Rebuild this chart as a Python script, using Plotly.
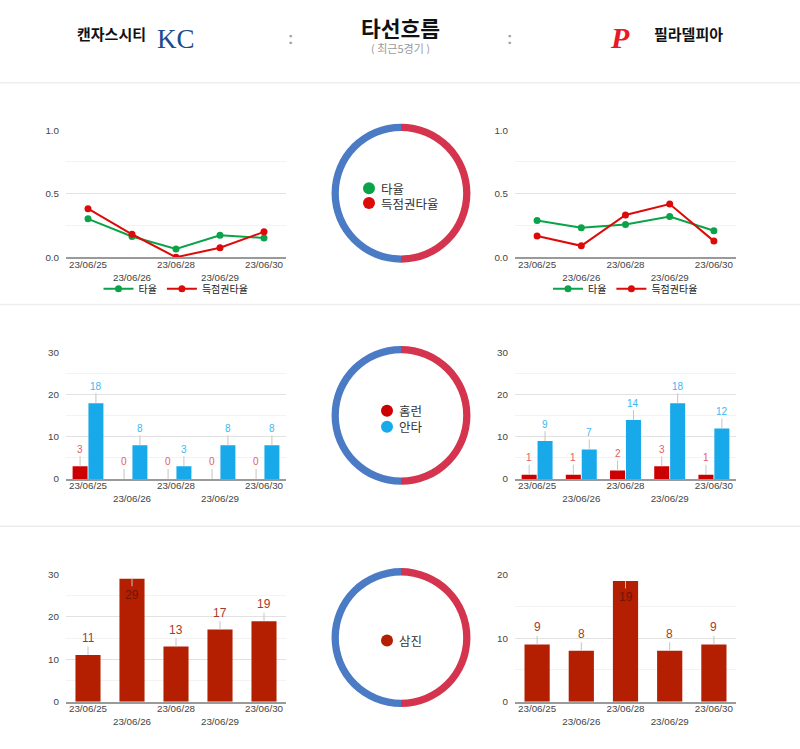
import plotly.graph_objects as go

# ---------------- data ----------------
dates = ["23/06/25", "23/06/26", "23/06/28", "23/06/29", "23/06/30"]
tick_labels = ["23/06/25", "<br>23/06/26", "23/06/28", "<br>23/06/29", "23/06/30"]

kc_avg = [0.302, 0.163, 0.065, 0.173, 0.152]     # 타율 (Kansas City)
kc_risp = [0.382, 0.181, 0.000, 0.075, 0.200]    # 득점권타율 (Kansas City)
phi_avg = [0.289, 0.233, 0.258, 0.320, 0.209]    # 타율 (Philadelphia)
phi_risp = [0.168, 0.090, 0.333, 0.419, 0.127]   # 득점권타율 (Philadelphia)

kc_hr = [3, 0, 0, 0, 0]          # 홈런
kc_hits = [18, 8, 3, 8, 8]       # 안타
phi_hr = [1, 1, 2, 3, 1]
phi_hits = [9, 7, 14, 18, 12]

kc_so = [11, 29, 13, 17, 19]     # 삼진
phi_so = [9, 8, 19, 8, 9]

team_split = [1, 1]              # decorative ring: PHI (right), KC (left)

# ---------------- styles ----------------
W, H = 800, 749
FONT = "Liberation Sans, Arial, Noto Sans CJK KR, sans-serif"
KFONT = "Noto Sans CJK KR, sans-serif"
GREEN = "#0ba34a"
RED_LINE = "#dd0a0a"
HR_RED = "#cc0000"
HIT_BLUE = "#17a9ea"
SO_RED = "#b31f00"
RING_BLUE = "#4a7bc4"
RING_RED = "#d4344d"


def px(x):
    return x / W


def py(y):
    return 1 - y / H


fig = go.Figure()

LEFT = [px(66), px(286)]
RIGHT = [px(515), px(736)]
rows = {1: (126, 255), 2: (352, 480), 3: (577, 706)}

axes_spec = [
    (1, LEFT, 1, 1.0, 0.5, 0.25, ".1f"),
    (2, RIGHT, 1, 1.0, 0.5, 0.25, ".1f"),
    (3, LEFT, 2, 30, 10, 5, "d"),
    (4, RIGHT, 2, 30, 10, 5, "d"),
    (5, LEFT, 3, 30, 10, 5, "d"),
    (6, RIGHT, 3, 20, 10, 5, "d"),
]

layout_axes = {}
for idx, xd, row, ymax, dt, mn, fmt in axes_spec:
    top, bot = rows[row]
    xname = "xaxis" if idx == 1 else f"xaxis{idx}"
    yname = "yaxis" if idx == 1 else f"yaxis{idx}"
    sfx = "" if idx == 1 else str(idx)
    layout_axes[xname] = dict(
        domain=xd, anchor="y" + sfx, type="category",
        categoryorder="array", categoryarray=dates,
        range=[-0.5, 4.5], showgrid=False, zeroline=False,
        showline=True, linecolor="#9a9a9a", linewidth=1.5,
        tickmode="array", tickvals=dates, ticktext=tick_labels,
        ticks="", ticklabelstandoff=-3,
        tickfont=dict(size=9.8, color="#444", family=FONT),
        fixedrange=True,
    )
    layout_axes[yname] = dict(
        domain=[py(bot), py(top)], anchor="x" + sfx,
        range=[0, ymax], dtick=dt, tick0=0, tickformat=fmt,
        showgrid=True, gridcolor="#e2e2e2", gridwidth=1,
        minor=dict(dtick=mn, tick0=0, showgrid=True, gridcolor="#f3f3f3"),
        zeroline=False, showline=False, ticks="",
        ticklabelstandoff=6,
        tickfont=dict(size=9.8, color="#444", family=FONT),
        fixedrange=True,
    )

# ---------------- line charts ----------------
for xa, ya, avg, risp, lg in [("x", "y", kc_avg, kc_risp, "legend"),
                              ("x2", "y2", phi_avg, phi_risp, "legend2")]:
    fig.add_trace(go.Scatter(x=dates, y=avg, name="타율", mode="lines+markers",
                             line=dict(color=GREEN, width=2),
                             marker=dict(size=7, color=GREEN),
                             xaxis=xa, yaxis=ya, legend=lg, hoverinfo="skip"))
    fig.add_trace(go.Scatter(x=dates, y=risp, name="득점권타율", mode="lines+markers",
                             line=dict(color=RED_LINE, width=2),
                             marker=dict(size=7, color=RED_LINE),
                             xaxis=xa, yaxis=ya, legend=lg, hoverinfo="skip"))

annotations = []


def bar_labels(xref, yref, vals, center, color, inside_color, ymax, size):
    for i, v in enumerate(vals):
        inside = v / ymax > 0.9
        annotations.append(dict(
            x=i + center, y=v, xref=xref, yref=yref, text=str(v),
            showarrow=True, arrowhead=0, arrowwidth=1, arrowcolor="#c4c4c4",
            ax=0, ay=16 if inside else -17, standoff=0,
            font=dict(size=size, color=inside_color if inside else color, family=FONT),
        ))


# ---------------- home runs / hits ----------------
BW = 0.34
for xa, ya, hr, hits in [("x3", "y3", kc_hr, kc_hits), ("x4", "y4", phi_hr, phi_hits)]:
    fig.add_trace(go.Bar(x=dates, y=hr, name="홈런", marker=dict(color=HR_RED, line=dict(width=0)),
                         width=BW, offset=-0.35, xaxis=xa, yaxis=ya,
                         showlegend=False, hoverinfo="skip"))
    fig.add_trace(go.Bar(x=dates, y=hits, name="안타", marker=dict(color=HIT_BLUE, line=dict(width=0)),
                         width=BW, offset=0.01, xaxis=xa, yaxis=ya,
                         showlegend=False, hoverinfo="skip"))
    bar_labels(xa, ya, hr, -0.35 + BW / 2, "#e25c62", "#ffffff", 30, 10)
    bar_labels(xa, ya, hits, 0.01 + BW / 2, "#3bb7f0", "#ffffff", 30, 10)

# ---------------- strikeouts ----------------
SW = 0.57
for xa, ya, so, ymax in [("x5", "y5", kc_so, 30), ("x6", "y6", phi_so, 20)]:
    fig.add_trace(go.Bar(x=dates, y=so, name="삼진", marker=dict(color=SO_RED, line=dict(width=0)),
                         width=SW, offset=-SW / 2, xaxis=xa, yaxis=ya,
                         showlegend=False, hoverinfo="skip"))
    bar_labels(xa, ya, so, 0, "#a83a2a", "#6e1509", ymax, 12)

# ---------------- center rings ----------------
for cy in [190, 415.5, 641]:
    r = 70.5
    fig.add_trace(go.Pie(values=team_split, labels=["PHI", "KC"],
                         marker=dict(colors=[RING_RED, RING_BLUE], line=dict(width=0)),
                         hole=0.895, sort=False, direction="clockwise", rotation=0,
                         textinfo="none", hoverinfo="skip", showlegend=False,
                         domain=dict(x=[px(401 - r), px(401 + r)], y=[py(cy + r), py(cy - r)])))

shapes = []
ring_legends = [
    (369, 185, GREEN, "타율"),
    (369, 200, RED_LINE, "득점권타율"),
    (387, 410.7, HR_RED, "홈런"),
    (387, 427, HIT_BLUE, "안타"),
    (387, 644, SO_RED, "삼진"),
]
for cx, cyy, col, label in ring_legends:
    shapes.append(dict(type="circle", xref="paper", yref="paper",
                       xsizemode="pixel", ysizemode="pixel",
                       xanchor=px(cx), yanchor=py(cyy),
                       x0=-6, x1=6, y0=-6, y1=6,
                       fillcolor=col, line=dict(width=0)))
    annotations.append(dict(x=px(cx + 10), y=py(cyy), xref="paper", yref="paper",
                            text=label, showarrow=False, xanchor="left", yanchor="middle",
                            height=13, valign="middle",
                            font=dict(size=12.5, color="#333", family=KFONT)))

# separators
for yy in [78, 303, 528]:
    shapes.append(dict(type="line", xref="paper", yref="paper", x0=0, x1=1,
                       y0=py(yy), y1=py(yy), line=dict(color="#ededed", width=1.5)))

# ---------------- header ----------------
header = [
    (111.5, 28, "<b>캔자스시티</b>", 15, "#111", KFONT, None),
    (176, 33, "KC", 27, "#1b4b8a", "Liberation Serif, serif", None),
    (290, 33, "<b>:</b>", 16, "#a0a0a0", FONT, None),
    (400, 21, "<b>타선흐름</b>", 21.5, "#111", KFONT, 24),
    (400, 42, "( 최근5경기 )", 11, "#9a9a9a", KFONT, 13),
    (510, 33, "<b>:</b>", 16, "#a0a0a0", FONT, None),
    (620, 32, "<b><i>P</i></b>", 30, "#e81828", "Liberation Serif, serif", None),
    (688.5, 28, "<b>필라델피아</b>", 15, "#111", KFONT, None),
]
for hx, hy, txt, sz, col, fam, hgt in header:
    ann = dict(x=px(hx), y=py(hy), xref="paper", yref="paper",
               text=txt, showarrow=False, xanchor="center", yanchor="middle",
               font=dict(size=sz, color=col, family=fam))
    if hgt:
        ann["height"] = hgt
        ann["valign"] = "middle"
    annotations.append(ann)

legend_common = dict(orientation="h", xanchor="center", yanchor="middle",
                     font=dict(size=10, color="#222", family=FONT),
                     bgcolor="rgba(0,0,0,0)", itemclick=False, itemdoubleclick=False)

fig.update_layout(
    width=W, height=H, autosize=False,
    margin=dict(l=0, r=0, t=0, b=0),
    paper_bgcolor="white", plot_bgcolor="white",
    font=dict(family=FONT),
    barmode="overlay",
    legend=dict(x=px(176), y=py(287), **legend_common),
    legend2=dict(x=px(625.5), y=py(287), **legend_common),
    annotations=annotations,
    shapes=shapes,
    hovermode=False,
    **layout_axes,
)

fig.write_html("out.html", config={"displayModeBar": False})
